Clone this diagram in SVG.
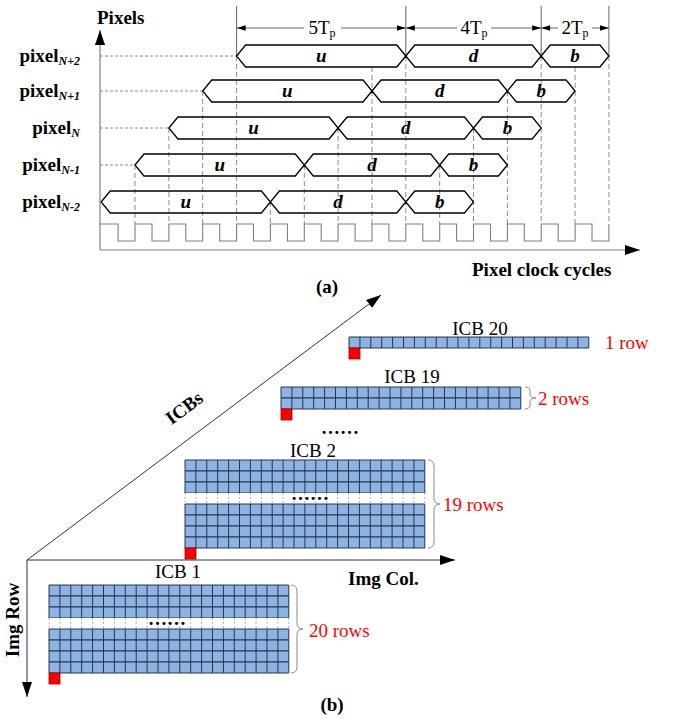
<svg xmlns="http://www.w3.org/2000/svg" xmlns:xlink="http://www.w3.org/1999/xlink" width="673" height="719" viewBox="0 0 673 719">
<style>
text{font-family:"Liberation Serif","DejaVu Serif",serif;font-size:19px;fill:#000}
.b{font-weight:bold}
.bi{font-weight:bold;font-style:italic;text-anchor:middle}
.sub{font-size:12px;font-style:italic;font-weight:bold}
.red{fill:#ff0000}
.mid{text-anchor:middle}
.hex{fill:none;stroke:#000;stroke-width:1.3;stroke-linejoin:miter}
.hd{stroke:#808080;stroke-width:0.9;stroke-dasharray:3,2;fill:none}
.vd{stroke:#808080;stroke-width:0.9;stroke-dasharray:5,3;fill:none}
.sol{stroke:#666;stroke-width:1;fill:none}
.ax{stroke:#808080;stroke-width:1.2;fill:none}
.dim{stroke:#555;stroke-width:0.9;fill:none}
.clk{stroke:#808080;stroke-width:1.1;fill:none}
.ax2{stroke:#333;stroke-width:1;fill:none}
.brace{stroke:#8a8a8a;stroke-width:1;fill:none}
.sq{fill:#ff0000;stroke:#a00000;stroke-width:0.8}
.grid{stroke:#26364f;stroke-width:1;fill:none}
</style>
<defs>
<marker id="ah" viewBox="0 0 10 6" refX="10" refY="3" markerWidth="9" markerHeight="6" markerUnits="userSpaceOnUse" orient="auto"><path d="M0,0 L10,3 L0,6 z" fill="#000"/></marker>
<marker id="big" viewBox="0 0 15 10" refX="15" refY="5" markerWidth="15" markerHeight="10" markerUnits="userSpaceOnUse" orient="auto"><path d="M0,0 L15,5 L0,10 z" fill="#000"/></marker>
<g id="row">
<rect width="239.8" height="11" fill="#8db3e2"/>
<path class="grid" d="M0,0H239.8V11H0Z M10.9,0V11M21.8,0V11M32.7,0V11M43.6,0V11M54.5,0V11M65.4,0V11M76.3,0V11M87.2,0V11M98.1,0V11M109,0V11M119.9,0V11M130.8,0V11M141.7,0V11M152.6,0V11M163.5,0V11M174.4,0V11M185.3,0V11M196.2,0V11M207.1,0V11M218,0V11M228.9,0V11"/>
</g>
<g id="gap">
<rect width="239.8" height="11" fill="#fff"/>
<path d="M0,0V11M10.9,0V11M21.8,0V11M32.7,0V11M43.6,0V11M54.5,0V11M65.4,0V11M76.3,0V11M87.2,0V11M98.1,0V11M109,0V11M119.9,0V11M130.8,0V11M141.7,0V11M152.6,0V11M163.5,0V11M174.4,0V11M185.3,0V11M196.2,0V11M207.1,0V11M218,0V11M228.9,0V11M239.8,0V11" stroke="#a0a0a0" stroke-width="0.8" stroke-dasharray="2,2" fill="none"/>
</g>
</defs>

<!-- (a) timing diagram -->
<g id="timing-axes">
<path class="ax" d="M100,250 V30" marker-end="url(#big)"/>
<path class="ax" d="M100,250 H640" marker-end="url(#big)"/>
<text class="b" x="97" y="24">Pixels</text>
<text class="b" x="472" y="276">Pixel clock cycles</text>
<text class="b mid" x="327" y="293">(a)</text>
</g>

<g id="clock">
<path class="clk" d="M100,224 H118.1 V241 H135 V224 H152 V241 H168.9 V224 H185.8 V241 H202.7 V224 H219.7 V241 H236.6 V224 H253.5 V241 H270.4 V224 H287.4 V241 H304.3 V224 H321.2 V241 H338.1 V224 H355.1 V241 H372 V224 H388.9 V241 H405.8 V224 H422.8 V241 H439.7 V224 H456.6 V241 H473.5 V224 H490.5 V241 H507.4 V224 H524.3 V241 H541.2 V224 H558.2 V241 H575.1 V224 H592 V241 H608.9 V224"/>
</g>

<g id="guides">
<path class="hd" d="M100,56H236.6 M100,91H202.7 M100,128H168.9 M100,165H135"/>
<path class="vd" d="M135,165V224 M168.9,128V224 M202.7,91V224 M236.6,56V224 M270.4,202V224 M304.3,165V224 M338.1,128V224 M372,67V224 M405.8,56V224 M439.7,165V224 M473.5,128V224 M507.4,91V224 M541.2,56V224 M575.1,67V224 M608.9,56V224"/>
<path class="sol" d="M236.6,6V56 M405.8,6V56 M541.2,6V56 M608.9,6V56"/>
</g>

<g id="dimensions">
<path class="dim" d="M304,28H236.6" marker-end="url(#ah)"/>
<path class="dim" d="M341,28H405.8" marker-end="url(#ah)"/>
<text class="mid" x="322" y="34">5T<tspan font-size="12" dy="3">p</tspan></text>
<path class="dim" d="M457,28H405.8" marker-end="url(#ah)"/>
<path class="dim" d="M491,28H541.2" marker-end="url(#ah)"/>
<text class="mid" x="474" y="34">4T<tspan font-size="12" dy="3">p</tspan></text>
<path class="dim" d="M558,28H541.2" marker-end="url(#ah)"/>
<path class="dim" d="M592,28H608.9" marker-end="url(#ah)"/>
<text class="mid" x="575" y="34">2T<tspan font-size="12" dy="3">p</tspan></text>
</g>

<g id="pixel-n-plus-2">
<text class="b" x="80" y="62" text-anchor="end">pixel<tspan class="sub" dy="3">N+2</tspan></text>
<path class="hex" d="M236.6,56 L245.6,45 L396.8,45 L405.8,56 L396.8,67 L245.6,67 Z M405.8,56 L414.8,45 L532.2,45 L541.2,56 L532.2,67 L414.8,67 Z M541.2,56 L550.2,45 L599.9,45 L608.9,56 L599.9,67 L550.2,67 Z"/>
<text class="bi" x="321.2" y="62">u</text><text class="bi" x="473.5" y="62">d</text><text class="bi" x="575" y="62">b</text>
</g>

<g id="pixel-n-plus-1">
<text class="b" x="80" y="97" text-anchor="end">pixel<tspan class="sub" dy="3">N+1</tspan></text>
<path class="hex" d="M202.7,91 L211.7,80 L363,80 L372,91 L363,102 L211.7,102 Z M372,91 L381,80 L498.4,80 L507.4,91 L498.4,102 L381,102 Z M507.4,91 L516.4,80 L566.1,80 L575.1,91 L566.1,102 L516.4,102 Z"/>
<text class="bi" x="287.3" y="97">u</text><text class="bi" x="439.7" y="97">d</text><text class="bi" x="541.2" y="97">b</text>
</g>

<g id="pixel-n">
<text class="b" x="80" y="134" text-anchor="end">pixel<tspan class="sub" dy="3">N</tspan></text>
<path class="hex" d="M168.9,128 L177.9,117 L329.1,117 L338.1,128 L329.1,139 L177.9,139 Z M338.1,128 L347.1,117 L464.5,117 L473.5,128 L464.5,139 L347.1,139 Z M473.5,128 L482.5,117 L532.2,117 L541.2,128 L532.2,139 L482.5,139 Z"/>
<text class="bi" x="253.5" y="134">u</text><text class="bi" x="405.8" y="134">d</text><text class="bi" x="507.4" y="134">b</text>
</g>

<g id="pixel-n-minus-1">
<text class="b" x="80" y="171" text-anchor="end">pixel<tspan class="sub" dy="3">N-1</tspan></text>
<path class="hex" d="M135,165 L144,154 L295.3,154 L304.3,165 L295.3,176 L144,176 Z M304.3,165 L313.3,154 L430.7,154 L439.7,165 L430.7,176 L313.3,176 Z M439.7,165 L448.7,154 L498.4,154 L507.4,165 L498.4,176 L448.7,176 Z"/>
<text class="bi" x="219.7" y="171">u</text><text class="bi" x="372" y="171">d</text><text class="bi" x="473.5" y="171">b</text>
</g>

<g id="pixel-n-minus-2">
<text class="b" x="80" y="208" text-anchor="end">pixel<tspan class="sub" dy="3">N-2</tspan></text>
<path class="hex" d="M101.2,202 L110.2,191 L261.4,191 L270.4,202 L261.4,213 L110.2,213 Z M270.4,202 L279.4,191 L396.8,191 L405.8,202 L396.8,213 L279.4,213 Z M405.8,202 L414.8,191 L464.5,191 L473.5,202 L464.5,213 L414.8,213 Z"/>
<text class="bi" x="185.8" y="208">u</text><text class="bi" x="338.1" y="208">d</text><text class="bi" x="439.7" y="208">b</text>
</g>

<!-- (b) ICB layout -->
<g id="connectors">
<path class="ax2" d="M27,560 L381,295" marker-end="url(#big)"/>
<path class="ax2" d="M27,560 H455" marker-end="url(#big)"/>
<path class="ax2" d="M27,560 V697" marker-end="url(#big)"/>
</g>
<g id="axis-labels">
<text class="b mid" transform="translate(188,413) rotate(-36.8)">ICBs</text>
<text class="b mid" transform="translate(19,620) rotate(-90)">Img Row</text>
<text class="b" x="348" y="585">Img Col.</text>
<text class="b mid" x="332" y="711">(b)</text>
<text class="b mid" x="340" y="434">……</text>
</g>

<g id="icb20">
<text class="mid" x="480" y="335">ICB 20</text>
<use xlink:href="#row" href="#row" x="349" y="337"/>
<rect class="sq" x="349" y="348" width="11" height="11"/>
<text class="red" x="605" y="349">1 row</text>
</g>

<g id="icb19">
<text class="mid" x="412" y="383">ICB 19</text>
<use href="#row" x="281" y="387"/>
<use href="#row" x="281" y="398"/>
<rect class="sq" x="281" y="409" width="11" height="11"/>
<path class="brace" d="M525,387 Q530,387 530,391 L530,394 Q530,398 536,398 Q530,398 530,402 L530,405 Q530,409 525,409"/>
<text class="red" x="538" y="405">2 rows</text>
</g>

<g id="icb2">
<text class="mid" x="313" y="457">ICB 2</text>
<use href="#row" x="185" y="460"/>
<use href="#row" x="185" y="471"/>
<use href="#row" x="185" y="482"/>
<use href="#gap" x="185" y="493"/>
<use href="#row" x="185" y="504"/>
<use href="#row" x="185" y="515"/>
<use href="#row" x="185" y="526"/>
<use href="#row" x="185" y="537"/>
<text class="b mid" x="310" y="500">……</text>
<rect class="sq" x="185" y="548" width="11" height="11"/>
<path class="brace" d="M428,460 Q434,460 434,466 L434,498 Q434,504 440,504 Q434,504 434,510 L434,542 Q434,548 428,548"/>
<text class="red" x="443" y="511">19 rows</text>
</g>

<g id="icb1">
<text class="mid" x="178" y="578">ICB 1</text>
<use href="#row" x="49" y="585"/>
<use href="#row" x="49" y="596"/>
<use href="#row" x="49" y="607"/>
<use href="#gap" x="49" y="618"/>
<use href="#row" x="49" y="629"/>
<use href="#row" x="49" y="640"/>
<use href="#row" x="49" y="651"/>
<use href="#row" x="49" y="662"/>
<text class="b mid" x="167" y="625">……</text>
<rect class="sq" x="49" y="673" width="11" height="11"/>
<path class="brace" d="M291,585 Q297,585 297,591 L297,623 Q297,629 303,629 Q297,629 297,635 L297,667 Q297,673 291,673"/>
<text class="red" x="309" y="637">20 rows</text>
</g>
</svg>
